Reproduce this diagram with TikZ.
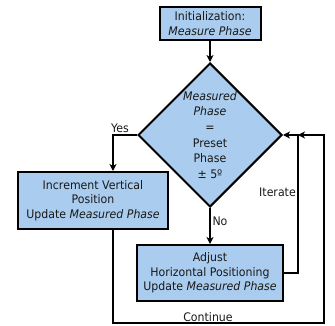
\documentclass[tikz,border=0pt]{standalone}
\usepackage{fontspec}
\setmainfont{DejaVu Sans}[FakeStretch=0.93]
\usetikzlibrary{shapes.geometric,arrows.meta}
\definecolor{boxfill}{RGB}{170,204,238}
\definecolor{txt}{RGB}{25,25,25}
\tikzset{
  proc/.style={draw=black, line width=2pt, fill=boxfill, align=center, text=txt,
    font=\fontsize{11.8}{14.6}\selectfont, inner sep=0pt},
  decide/.style={draw=black, line width=2pt, fill=boxfill, diamond, aspect=1, align=center,
    text=txt, font=\fontsize{11.8}{15.6}\selectfont, inner sep=0pt,
    minimum width=144pt, minimum height=144pt},
  conn/.style={draw=black, line width=1.8pt},
  arr/.style={conn, -{Stealth[length=7pt,width=7pt,inset=2pt]}},
  lbl/.style={text=txt, font=\fontsize{11.8}{12}\selectfont, inner sep=0pt}
}
\begin{document}
\begin{tikzpicture}[x=1pt,y=-1pt]
\useasboundingbox (0,0) rectangle (335,326);
\node[proc, minimum width=101pt, minimum height=33pt] (init) at (210,23.5) {Initialization:\\\textit{Measure Phase}};
\node[decide] (dia) at (210,135) {\textit{Measured}\\\textit{Phase}\\=\\Preset\\Phase\\± 5º};
\node[proc, minimum width=150pt, minimum height=57pt] (left) at (93,200.5) {Increment Vertical\\Position\\Update \textit{Measured Phase}};
\node[proc, minimum width=146pt, minimum height=56pt] (adj) at (210,273) {Adjust\\Horizontal Positioning\\Update \textit{Measured Phase}};
\coordinate (yc) at (113,135);
\coordinate (itx) at (298,135);
\coordinate (cx) at (324,135);
\coordinate (bot) at (113,323);
\draw[arr] (init) -- (dia.north);
\draw[arr] (dia.west) -- (yc) -- (yc |- left.north);
\draw[arr] (dia.south) -- (adj.north);
\draw[arr] (adj.east) -| (itx) -- (dia.east);
\draw[arr] (yc |- left.south) -- (bot) -| (cx) -- (itx);
\node[lbl] (yes) at (120,128) {Yes};
\node[lbl] (no) at (220,221) {No};
\node[lbl] (it) at (277.5,192) {Iterate};
\node[lbl] (cont) at (208,317) {Continue};
\end{tikzpicture}
\end{document}
